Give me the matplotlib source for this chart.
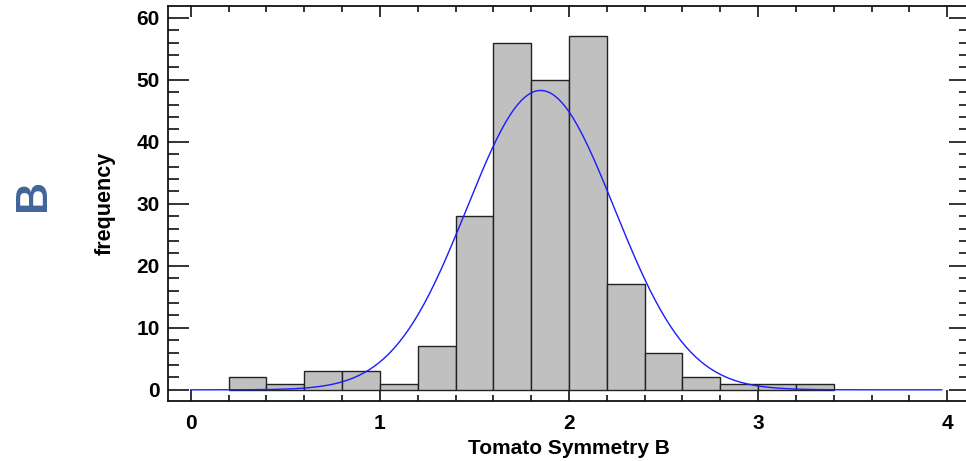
import numpy as np
import matplotlib.pyplot as plt
from matplotlib.ticker import MultipleLocator

# histogram of the symmetry index, bin width 0.2
bin_edges = [0.2, 0.4, 0.6, 0.8, 1.0, 1.2, 1.4, 1.6, 1.8, 2.0, 2.2, 2.4, 2.6, 2.8, 3.0, 3.2, 3.4]
counts = [2, 1, 3, 3, 1, 7, 28, 56, 50, 57, 17, 6, 2, 1, 1, 1]

# fitted normal curve parameters
fit_mean = 1.85
fit_sd = 0.39
curve_range = (0.0, 3.97)

plt.rcParams['font.family'] = ['Liberation Sans', 'DejaVu Sans']

fig = plt.figure(figsize=(9.66, 4.61), dpi=100)
ax = fig.add_axes([168 / 966, 60 / 461, 802 / 966, 395 / 461])

lefts = bin_edges[:-1]
widths = np.diff(bin_edges)
ax.bar(lefts, counts, width=widths, align='edge', color='#c0c0c0',
       edgecolor='#222222', linewidth=1.0, zorder=2)

n_total = sum(counts)
bw = widths[0]
xs = np.linspace(curve_range[0], curve_range[1], 300)
ys = n_total * bw / (fit_sd * np.sqrt(2 * np.pi)) * np.exp(-0.5 * ((xs - fit_mean) / fit_sd) ** 2)
ax.plot(xs, ys, color='#1a1aff', linewidth=1.0, zorder=3)

ax.set_xlim(-0.12, 4.12)
ax.set_ylim(-1.8, 61.9)

ax.xaxis.set_major_locator(MultipleLocator(1))
ax.xaxis.set_minor_locator(MultipleLocator(0.2))
ax.yaxis.set_major_locator(MultipleLocator(10))
ax.yaxis.set_minor_locator(MultipleLocator(2))

ax.tick_params(axis='both', which='both', direction='in', top=True, right=True,
               width=1.2, colors='#111111', labelcolor='black')
ax.tick_params(axis='x', which='major', length=8, pad=9, labelsize=15)
ax.tick_params(axis='x', which='minor', length=4)
ax.tick_params(axis='y', which='major', length=15, pad=6, labelsize=15)
ax.tick_params(axis='y', which='minor', length=8)
for lbl in ax.get_xticklabels() + ax.get_yticklabels():
    lbl.set_fontweight('bold')

for s in ax.spines.values():
    s.set_linewidth(1.3)
    s.set_color('#111111')

ax.set_xlabel('Tomato Symmetry B', fontsize=15, fontweight='bold', labelpad=5)
ax.set_ylabel('frequency', fontsize=15.5, fontweight='bold', labelpad=15)

fig.text(34 / 966, 1 - 195 / 461, 'B', rotation=90, fontsize=32, fontweight='bold',
         color='#40659a', ha='center', va='center')

fig.savefig('out.png', dpi=100)
